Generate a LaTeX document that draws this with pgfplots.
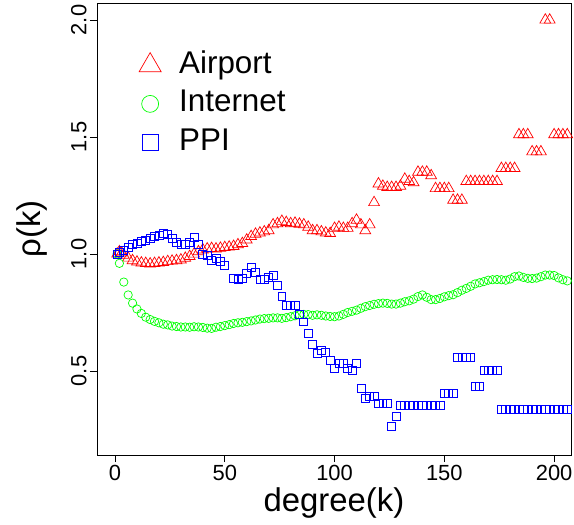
\documentclass[border=0pt]{standalone}
\usepackage{pgfplots}
\pgfplotsset{compat=1.18}
\usepackage{fontspec}
\setmainfont{Liberation Sans}
\begin{document}
\begin{tikzpicture}
\useasboundingbox (0,0) rectangle (574bp,525bp);
\begin{axis}[
  at={(97bp,70bp)}, anchor=south west,
  width=474bp, height=452bp, scale only axis,
  xmin=-8.2, xmax=207.7, ymin=0.141, ymax=2.0726,
  xtick={0,50,100,150,200}, ytick={0.5,1,1.5,2},
  tick pos=left, tick align=outside,
  major tick length=7bp,
  tick style={black, line width=0.8pt},
  axis line style={line width=0.8pt},
  /pgf/number format/assume math mode=true,
  xticklabel={\pgfmathprintnumber{\tick}},
  yticklabel={\pgfmathprintnumber[fixed,fixed zerofill,precision=1]{\tick}},
  yticklabel style={rotate=90, anchor=south},
  ticklabel style={font=\fontsize{22}{26}\selectfont},
  xlabel={degree(k)}, ylabel={ρ(k)},
  label style={font=\fontsize{33}{40}\selectfont},
  xlabel style={at={(axis description cs:0.5,-0.106)}, anchor=center},
  ylabel style={at={(axis description cs:-0.137,0.5)}, anchor=center, rotate=0},
  legend image code/.code={\path[draw=none,fill=none] (-13bp,-2bp) rectangle (13bp,2bp); \draw[#1] plot coordinates {(0pt,0pt)};},
  legend style={draw=none, fill=none, at={(axis description cs:0.078,0.90)}, anchor=north west,
    font=\fontsize{31.5}{38}\selectfont, row sep=8.5bp,
    nodes={text height=22bp, text depth=6bp, inner sep=1bp},
    /tikz/every odd column/.append style={column sep=15bp}},
  legend cell align=left,
]
\addplot[only marks, mark=triangle, red, mark size=6.3pt, mark options={line width=0.7pt}, legend image post style={mark size=12.8pt}] coordinates {
(1,1.00)(2,1.01)(3,1.005)(4,0.995)(6,0.983)(8,0.972)(10,0.966)(12,0.962)(14,0.96)(16,0.958)
(18,0.96)(20,0.962)(22,0.964)(24,0.968)(26,0.970)(28,0.972)(30,0.975)(32,0.982)(34,0.99)(36,1.00)
(38,1.01)(40,1.018)(42,1.022)(44,1.024)(46,1.022)(48,1.025)(50,1.028)(52,1.03)(54,1.033)(56,1.04)
(58,1.045)(60,1.06)(62,1.075)(64,1.085)(66,1.09)(68,1.095)(70,1.10)(72,1.125)(74,1.13)(76,1.14)
(78,1.135)(80,1.13)(82,1.132)(84,1.128)(86,1.125)(88,1.115)(90,1.10)(92,1.10)(94,1.095)(96,1.09)
(98,1.088)(100,1.11)(102,1.115)(104,1.11)(106,1.11)(108,1.13)(110,1.145)(112,1.125)(114,1.10)(116,1.125)
(118,1.22)(120,1.30)(122,1.29)(124,1.285)(126,1.285)(128,1.285)(130,1.29)(132,1.32)(134,1.31)(136,1.305)
(138,1.35)(140,1.35)(142,1.35)(144,1.335)(146,1.28)(148,1.28)(150,1.28)(152,1.28)(154,1.23)(156,1.23)
(158,1.23)(160,1.31)(162,1.31)(164,1.31)(166,1.31)(168,1.31)(170,1.31)(172,1.31)(174,1.31)(176,1.366)
(178,1.366)(180,1.366)(182,1.366)(184,1.51)(186,1.51)(188,1.51)(190,1.437)(192,1.437)(194,1.437)(196,2.0)
(198,2.0)(200,1.51)(202,1.51)(204,1.51)(206,1.51)(208,1.51)
};
\addlegendentry{Airport}
\addplot[only marks, mark=o, green, mark size=4.2pt, mark options={line width=0.7pt}, legend image post style={mark size=8.5pt}] coordinates {
(1,1.00)(2,0.96)(4,0.88)(6,0.825)(8,0.79)(10,0.765)(12,0.746)(14,0.73)(16,0.72)(18,0.712)
(20,0.706)(22,0.70)(24,0.697)(26,0.692)(28,0.69)(30,0.688)(32,0.688)(34,0.687)(36,0.689)(38,0.688)
(40,0.686)(42,0.683)(44,0.682)(46,0.687)(48,0.69)(50,0.694)(52,0.698)(54,0.703)(56,0.706)(58,0.708)
(60,0.711)(62,0.714)(64,0.718)(66,0.722)(68,0.724)(70,0.725)(72,0.727)(74,0.727)(76,0.725)(78,0.728)
(80,0.732)(82,0.736)(84,0.740)(86,0.742)(88,0.741)(90,0.738)(92,0.740)(94,0.738)(96,0.735)(98,0.733)
(100,0.732)(102,0.735)(104,0.742)(106,0.750)(108,0.755)(110,0.760)(112,0.768)(114,0.775)(116,0.78)(118,0.785)
(120,0.788)(122,0.79)(124,0.789)(126,0.786)(128,0.786)(130,0.79)(132,0.796)(134,0.80)(136,0.807)(138,0.818)
(140,0.825)(142,0.815)(144,0.805)(146,0.805)(148,0.81)(150,0.817)(152,0.822)(154,0.826)(156,0.835)(158,0.845)
(160,0.853)(162,0.862)(164,0.872)(166,0.877)(168,0.882)(170,0.888)(172,0.89)(174,0.891)(176,0.89)(178,0.888)
(180,0.893)(182,0.903)(184,0.906)(186,0.900)(188,0.896)(190,0.895)(192,0.897)(194,0.903)(196,0.91)(198,0.91)
(200,0.908)(202,0.898)(204,0.89)(206,0.885)(208,0.88)
};
\addlegendentry{Internet}
\addplot[only marks, mark=square, blue, mark size=4pt, mark options={line width=0.7pt}, legend image post style={mark size=8pt}] coordinates {
(1,1.00)(2,1.005)(4,1.017)(6,1.03)(8,1.04)(10,1.046)(12,1.056)(14,1.06)(16,1.067)(18,1.077)
(20,1.08)(22,1.09)(24,1.085)(26,1.067)(28,1.048)(30,1.04)(32,1.04)(34,1.048)(36,1.07)(38,1.04)
(40,1.0)(42,0.995)(44,0.974)(46,0.98)(48,0.967)(50,0.953)(54,0.896)(56,0.89)(58,0.896)(60,0.917)
(62,0.943)(64,0.92)(66,0.89)(68,0.89)(70,0.90)(72,0.91)(74,0.867)(76,0.818)(78,0.78)(80,0.78)
(82,0.78)(84,0.74)(86,0.71)(88,0.66)(90,0.615)(92,0.575)(94,0.59)(96,0.578)(98,0.547)(100,0.51)
(102,0.533)(104,0.533)(106,0.51)(108,0.504)(110,0.533)(112,0.426)(114,0.383)(116,0.393)(118,0.393)(120,0.36)
(122,0.36)(124,0.36)(126,0.265)(128,0.308)(130,0.355)(132,0.355)(134,0.355)(136,0.355)(138,0.355)(140,0.355)
(142,0.355)(144,0.355)(146,0.355)(148,0.355)(150,0.405)(152,0.405)(154,0.405)(156,0.558)(158,0.558)(160,0.558)
(162,0.558)(164,0.433)(166,0.433)(168,0.504)(170,0.504)(172,0.504)(174,0.504)(176,0.336)(178,0.336)(180,0.336)
(182,0.336)(184,0.336)(186,0.336)(188,0.336)(190,0.336)(192,0.336)(194,0.336)(196,0.336)(198,0.336)(200,0.336)
(202,0.336)(204,0.336)(206,0.336)(208,0.336)
};
\addlegendentry{PPI}
\end{axis}
\end{tikzpicture}
\end{document}
